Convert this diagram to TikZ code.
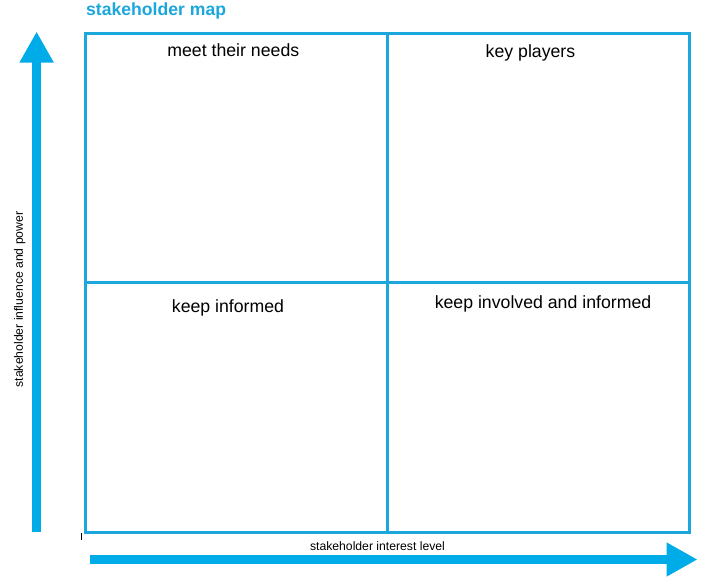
\documentclass[tikz,border=0pt]{standalone}
\usepackage{fontspec}
\setmainfont{Liberation Sans}
\usetikzlibrary{arrows.meta}
\definecolor{mapblue}{RGB}{27,167,220}
\definecolor{arrowblue}{RGB}{0,172,232}

\begin{document}
\begin{tikzpicture}[x=1pt,y=-1pt,>={Triangle[length=31pt,width=32pt]}]
                        \useasboundingbox (0,0) rectangle (704,576);
                        \tikzset{quad/.style={anchor=base,inner sep=0pt,font=\fontsize{17.7}{20}\selectfont},
                                 axislabel/.style={anchor=base,inner sep=0pt,font=\fontsize{12.2}{14}\selectfont}}
                        \coordinate (nw) at (85.5,33);
                        \coordinate (se) at (689.5,532);
                        \coordinate (top) at (387.7,33);
                        \coordinate (bottom) at (387.7,532);
                        \coordinate (left) at (85.5,282.5);
                        \coordinate (right) at (689.5,282.5);
                        \draw[mapblue,line width=3pt] (nw) rectangle (se);
                        \draw[mapblue,line width=3pt] (top) -- (bottom);
                        \draw[mapblue,line width=3pt] (left) -- (right);
                        \coordinate (ystart) at (36.6,532);
                        \coordinate (yend) at (36.6,31.5);
                        \coordinate (xstart) at (90,559.5);
                        \coordinate (xend) at (697.5,559.5);
                        \draw[->,arrowblue,line width=8.5pt] (ystart) -- (yend);
                        \draw[->,arrowblue,line width=9pt] (xstart) -- (xend);
                        \draw[line width=0.8pt] (81.3,533.3) -- (81.3,540);
                        \node[anchor=base west,inner sep=0pt,text=mapblue,
                              font=\fontsize{17.6}{20}\selectfont\bfseries] (title) at (86,15.5) {stakeholder map};
                        \node[quad] (meet) at (233.3,56.7) {meet their needs};
                        \node[quad] (key) at (530.5,57) {key players};
                        \node[quad] (inform) at (228,312.7) {keep informed};
                        \node[quad] (involve) at (543,308) {keep involved and informed};
                        \node[axislabel] (interest) at (377.5,550.7) {stakeholder interest level};
                        \node[axislabel,rotate=90] (influence) at (23,299.5) {stakeholder influence and power};
                    \end{tikzpicture}
\end{document}
